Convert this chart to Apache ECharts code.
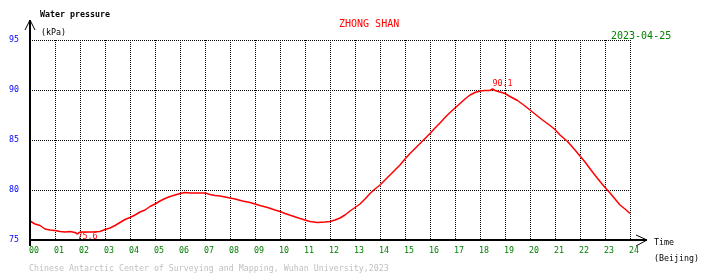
<!DOCTYPE html>
<html>
<head>
<meta charset="utf-8">
<script src="https://cdn.jsdelivr.net/npm/echarts@6/dist/echarts.min.js"></script>
<style>html,body{margin:0;padding:0;background:#fff;}#c{width:710px;height:278px;}</style>
</head>
<body>
<div id="c"></div>
<script>
// Hours (Beijing time) and water pressure (kPa)
var hours = [0.0,0.2,0.4,0.6,0.8,1.0,1.2,1.4,1.6,1.8,1.9,2.0,2.2,2.5,2.8,3.0,3.2,3.4,3.6,3.8,4.0,4.2,4.4,4.6,4.8,5.0,5.2,5.4,5.6,5.8,6.0,6.2,6.4,6.6,6.8,7.0,7.2,7.4,7.6,7.8,8.0,8.2,8.5,8.8,9.0,9.2,9.5,9.8,10.0,10.2,10.5,10.8,11.0,11.2,11.5,11.8,12.0,12.2,12.4,12.6,12.8,13.0,13.2,13.4,13.6,13.8,14.0,14.2,14.4,14.6,14.8,15.0,15.2,15.4,15.6,15.8,16.0,16.2,16.4,16.6,16.8,17.0,17.2,17.4,17.6,17.8,18.0,18.2,18.4,18.5,18.6,18.8,19.0,19.2,19.5,19.8,20.0,20.2,20.5,20.8,21.0,21.2,21.5,21.8,22.0,22.2,22.5,22.8,23.0,23.2,23.4,23.6,23.8,24.0];
var pressure = [76.9,76.6,76.45,76.1,76.0,75.95,75.85,75.8,75.85,75.75,75.6,75.8,75.8,75.8,75.85,76.05,76.2,76.45,76.75,77.05,77.25,77.5,77.8,78.0,78.35,78.6,78.9,79.15,79.35,79.5,79.65,79.75,79.7,79.7,79.7,79.7,79.55,79.45,79.4,79.3,79.2,79.1,78.9,78.75,78.6,78.45,78.25,78.0,77.85,77.65,77.4,77.15,77.0,76.85,76.75,76.8,76.85,77.0,77.2,77.5,77.9,78.25,78.6,79.1,79.65,80.1,80.5,81.0,81.5,82.0,82.5,83.1,83.65,84.15,84.65,85.15,85.65,86.2,86.7,87.25,87.75,88.2,88.65,89.1,89.5,89.75,89.9,89.95,89.95,90.1,89.95,89.8,89.65,89.35,88.95,88.4,88.0,87.6,87.0,86.45,86.05,85.5,84.85,84.0,83.4,82.8,81.8,80.85,80.25,79.7,79.1,78.5,78.1,77.65];
var yTicks = [75, 80, 85, 90, 95];
var station = 'ZHONG SHAN';
var dateText = '2023-04-25';
var yName = 'Water pressure';
var yUnit = '(kPa)';
var xName = 'Time';
var xUnit = '(Beijing)';
var footer = 'Chinese Antarctic Center of Surveying and Mapping, Wuhan University,2023';

var mono = 'DejaVu Sans Mono';
var series = hours.map(function (h, i) { return [h, pressure[i]]; });

var chart = echarts.init(document.getElementById('c'), null, {renderer: 'canvas'});
chart.setOption({
  animation: false,
  backgroundColor: '#ffffff',
  grid: {left: 30, right: 80, top: 40, bottom: 38},
  xAxis: {
    type: 'value', min: 0, max: 24, interval: 1,
    axisLine: {show: true, onZero: false, lineStyle: {color: '#000', width: 2}},
    axisTick: {show: false},
    axisLabel: {
      color: '#008000', fontFamily: mono, fontSize: 8.3, margin: 7,
      padding: [0, 0, 0, 8],
      formatter: function (v) { return (v < 10 ? '0' : '') + v; }
    },
    splitLine: {show: true, lineStyle: {color: '#000', width: 1, type: [1, 1]}}
  },
  yAxis: {
    type: 'value', min: yTicks[0], max: yTicks[yTicks.length - 1], interval: 5,
    axisLine: {show: true, lineStyle: {color: '#000', width: 2}},
    axisTick: {show: false},
    axisLabel: {color: '#0000ff', fontFamily: mono, fontSize: 8.3, margin: 11, padding: [0, 0, 5, 0]},
    splitLine: {show: true, lineStyle: {color: '#000', width: 1, type: [1, 1]}}
  },
  series: [{
    type: 'line',
    data: series,
    showSymbol: false,
    symbol: 'none',
    lineStyle: {color: '#ff0000', width: 1.5},
    z: 5,
    markPoint: {
      symbol: 'circle', symbolSize: 0,
      data: [
        {type: 'max', label: {position: [0, -9]}},
        {type: 'min', label: {position: [0, -1]}}
      ],
      label: {show: true, color: '#ff0000', fontFamily: mono, fontSize: 8.3, formatter: function (p) { return p.value.toFixed(1); }}
    }
  }],
  graphic: [
    // axis extensions and open arrowheads
    {type: 'line', shape: {x1: 30, y1: 20, x2: 30, y2: 246}, style: {stroke: '#000', lineWidth: 2}, z: 10},
    {type: 'polyline', shape: {points: [[25, 30], [30, 20], [35, 30]]}, style: {stroke: '#000', lineWidth: 1, fill: null}, z: 10},
    {type: 'line', shape: {x1: 30, y1: 240, x2: 647, y2: 240}, style: {stroke: '#000', lineWidth: 2}, z: 10},
    {type: 'polyline', shape: {points: [[636, 235], [647, 240], [636, 246]]}, style: {stroke: '#000', lineWidth: 1, fill: null}, z: 10},
    {type: 'text', left: 40, top: 11, style: {text: yName, fill: '#000', font: 'bold 8.3px "DejaVu Sans Mono"'}},
    {type: 'text', left: 41, top: 29, style: {text: yUnit, fill: '#000', font: '8.3px "DejaVu Sans Mono"'}},
    {type: 'text', left: 654, top: 239, style: {text: xName, fill: '#000', font: '8.3px "DejaVu Sans Mono"'}},
    {type: 'text', left: 654, top: 255, style: {text: xUnit, fill: '#000', font: '8.3px "DejaVu Sans Mono"'}},
    {type: 'text', left: 339, top: 19, style: {text: station, fill: '#ff0000', font: '10px "DejaVu Sans Mono"'}},
    {type: 'text', left: 611, top: 31, style: {text: dateText, fill: '#008000', font: '10px "DejaVu Sans Mono"'}},
    {type: 'text', left: 29, top: 265, style: {text: footer, fill: '#c0c0c0', font: '8.3px "DejaVu Sans Mono"'}}
  ]
});
</script>
</body>
</html>
